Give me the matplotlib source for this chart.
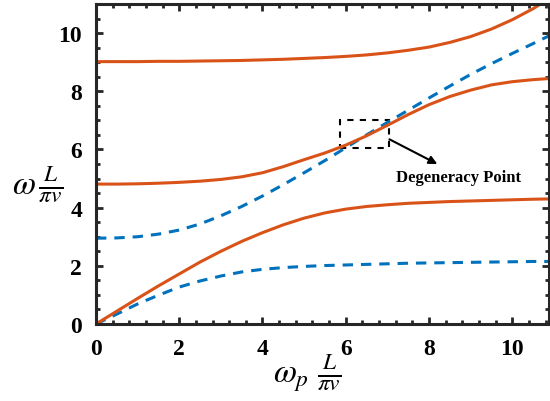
import matplotlib
matplotlib.use("Agg")
import matplotlib.pyplot as plt
from matplotlib.patches import Rectangle
from matplotlib.ticker import MultipleLocator

plt.rcParams['font.family'] = ['Liberation Serif', 'DejaVu Serif']
plt.rcParams['mathtext.fontset'] = 'stix'

# common sampling of the horizontal axis (omega_p L / pi v)
x_s = [0.0, 0.5, 1.0, 1.5, 2.0, 2.5, 3.0, 3.5, 4.0, 4.5, 5.0, 5.5,
       6.0, 6.5, 7.0, 7.5, 8.0, 8.5, 9.0, 9.5, 10.0, 10.5, 10.9]

# Lower orange branch
y_o1 = [0.0, 0.44, 0.88, 1.31, 1.72, 2.13, 2.50, 2.84, 3.14, 3.41, 3.64, 3.82,
        3.95, 4.04, 4.10, 4.15, 4.18, 4.21, 4.23, 4.25, 4.27, 4.29, 4.30]

# Middle orange branch
y_o2 = [4.81, 4.81, 4.82, 4.84, 4.87, 4.91, 4.97, 5.06, 5.20, 5.41, 5.65, 5.88,
        6.15, 6.47, 6.83, 7.20, 7.54, 7.82, 8.04, 8.22, 8.33, 8.40, 8.44]

# Upper orange branch
y_o3 = [9.02, 9.02, 9.02, 9.03, 9.03, 9.04, 9.05, 9.06, 9.08, 9.10, 9.13, 9.16,
        9.20, 9.25, 9.32, 9.41, 9.52, 9.68, 9.88, 10.14, 10.46, 10.84, 11.2]

# Lower blue dashed branch
y_b1 = [0.0, 0.34, 0.69, 0.99, 1.27, 1.48, 1.65, 1.79, 1.88, 1.94, 1.98, 2.01,
        2.03, 2.05, 2.07, 2.09, 2.10, 2.11, 2.12, 2.13, 2.14, 2.15, 2.15]

# Upper blue dashed branch
y_b2 = [2.95, 2.96, 3.00, 3.09, 3.23, 3.44, 3.72, 4.04, 4.40, 4.79, 5.20, 5.62,
        6.06, 6.50, 6.93, 7.35, 7.77, 8.18, 8.58, 8.95, 9.30, 9.64, 9.92]

orange = '#D95319'
blue = '#0072BD'

fig = plt.figure(figsize=(5.5, 4.02), dpi=100)
ax = fig.add_axes([0.1745, 0.1915, 0.8235, 0.796])

dash = (3.4, 2.6)
ax.plot(x_s, y_b1, '--', color=blue, lw=2.2, dashes=dash)
ax.plot(x_s, y_b2, '--', color=blue, lw=2.2, dashes=dash)
ax.plot(x_s, y_o1, '-', color=orange, lw=2.2)
ax.plot(x_s, y_o2, '-', color=orange, lw=2.2)
ax.plot(x_s, y_o3, '-', color=orange, lw=2.2)

ax.add_patch(Rectangle((5.85, 6.05), 1.18, 0.97, fill=False, ec='black',
                       lw=1.5, ls=(0, (3, 3))))
ax.annotate('', xy=(8.2, 5.5), xytext=(7.05, 6.35),
            arrowprops=dict(arrowstyle='-|>', color='black', lw=1.5,
                            mutation_scale=12, shrinkA=0, shrinkB=0))
ax.text(7.2, 5.05, 'Degeneracy Point', fontsize=12, fontweight='bold',
        va='center', ha='left')

ax.set_xlim(0, 10.88)
ax.set_ylim(0, 11)
ax.xaxis.set_major_locator(MultipleLocator(2))
ax.xaxis.set_minor_locator(MultipleLocator(0.4))
ax.yaxis.set_major_locator(MultipleLocator(2))
ax.yaxis.set_minor_locator(MultipleLocator(0.5))
ax.tick_params(which='both', direction='in', top=True, right=True,
               width=2, color='#262626')
ax.tick_params(which='major', length=5, labelsize=17)
ax.tick_params(axis='y', which='major', pad=10)
ax.tick_params(axis='x', which='major', pad=10)
ax.tick_params(which='minor', length=3)
for lab in ax.get_xticklabels() + ax.get_yticklabels():
    lab.set_fontweight('bold')
for s in ax.spines.values():
    s.set_linewidth(2.2)
    s.set_color('#262626')

ax.set_xlabel(r'$\omega_p\ \frac{L}{\pi v}$', fontsize=24, va='center', ha='center')
ax.xaxis.set_label_coords(0.466, -0.15)
ax.set_ylabel(r'$\omega\,\frac{L}{\pi v}$', fontsize=24, rotation=0,
              va='center', ha='center')
ax.yaxis.set_label_coords(-0.13, 0.44)

fig.savefig('out.png', dpi=100)
